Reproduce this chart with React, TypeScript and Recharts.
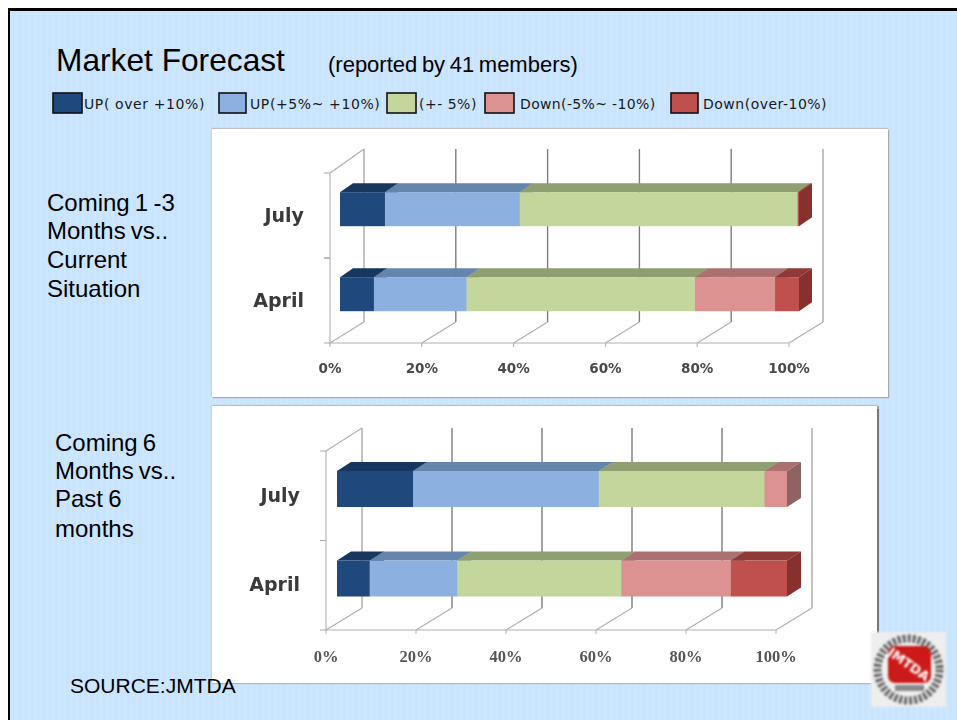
import React from "react";
import { Bar, BarChart, CartesianGrid, XAxis, YAxis } from "recharts";

const months = ["July", "April"];
const seriesKeys = ["upOver", "upMid", "flat", "downMid", "downOver"];
const seriesNames = ["UP( over +10%)", "UP(+5%~ +10%)", "(+- 5%)", "Down(-5%~ -10%)", "Down(over-10%)"];
const frontFills = ["#1f497d", "#8cb1e1", "#c3d69b", "#dc9291", "#c0504d"];
const topFills = ["#17375e", "#6685ad", "#8f9f70", "#ab7170", "#8f3a38"];
const sideFills = ["#17375e", "#6685ad", "#8f9f70", "#8f6362", "#87302e"];
const percentTicks = [0, 20, 40, 60, 80, 100];

// coming 1-3 months
const nearUpOver = [9.8, 7.4];
const nearUpMid = [29.4, 20.2];
const nearFlat = [60.5, 49.7];
const nearDownMid = [0, 17.5];
const nearDownOver = [0.3, 5.2];

// coming 6 months
const farUpOver = [16.9, 7.3];
const farUpMid = [41.3, 19.4];
const farFlat = [36.8, 36.5];
const farDownMid = [5, 24.3];
const farDownOver = [0, 12.5];

const buildRows = (cols: number[][]) =>
  months.map((month, i) => {
    const row: any = { month };
    seriesKeys.forEach((k, s) => (row[k] = cols[s][i]));
    return row;
  });

const nearData = buildRows([nearUpOver, nearUpMid, nearFlat, nearDownMid, nearDownOver]);
const farData = buildRows([farUpOver, farUpMid, farFlat, farDownMid, farDownOver]);

const box3d = (series: number, offX: number, offY: number, dx: number, dy: number) => (props: any) => {
  const { x, y, width, height } = props;
  if (!width || width <= 0) return <g />;
  const bx = x + offX;
  const by = y + offY;
  const r = bx + width;
  return (
    <g>
      <polygon points={`${bx},${by} ${r},${by} ${r + dx},${by - dy} ${bx + dx},${by - dy}`} fill={topFills[series]} />
      <polygon points={`${r},${by} ${r + dx},${by - dy} ${r + dx},${by - dy + height} ${r},${by + height}`} fill={sideFills[series]} />
      <rect x={bx} y={by} width={width} height={height} fill={frontFills[series]} />
    </g>
  );
};

const wallLine = (wallX: number, wallTop: number, wallBottom: number) => (props: any) => {
  const { x1, y1, y2, index } = props;
  const isEdge = index === 0 || index === percentTicks.length - 1;
  return (
    <g key={`wall-${index}`}>
      <line x1={x1 + wallX} x2={x1 + wallX} y1={y1 - wallTop} y2={y2 - wallBottom} stroke={isEdge ? "#a8a8a8" : "#7d7d7d"} strokeWidth={1.4} />
      <line x1={x1} x2={x1 + wallX} y1={y2} y2={y2 - wallBottom} stroke="#b0b0b0" strokeWidth={1.2} />
      {index === 0 && <line x1={x1} x2={x1 + wallX} y1={y1} y2={y1 - wallTop} stroke="#b0b0b0" strokeWidth={1.2} />}
    </g>
  );
};

const categoryTick = (band: number) => (props: any) => {
  const { x, y, payload } = props;
  return (
    <g>
      <line x1={x + 2} x2={x + 8} y1={y - band / 2} y2={y - band / 2} stroke="#a8a8a8" />
      <line x1={x + 2} x2={x + 8} y1={y + band / 2} y2={y + band / 2} stroke="#a8a8a8" />
      <text x={x - 18} y={y + 6} textAnchor="end" fontFamily="'DejaVu Sans'" fontWeight="bold" fontSize={19} fill="#3a3a3a">
        {payload.value}
      </text>
    </g>
  );
};

function ForecastChart({ data, left, top, width, height, plotLeft, plotRight, plotTop, plotBottom, barSize, barX, barY, depthX, depthY, wallX, wallTop, wallBottom, tick }: any) {
  const axisHeight = 40;
  return (
    <div style={{ position: "absolute", left, top, width, height, background: "#fff", filter: "blur(0.5px)" }}>
      <BarChart
        width={width}
        height={height}
        data={data}
        layout="vertical"
        barSize={barSize}
        margin={{ left: 0, top: plotTop, right: width - plotRight, bottom: height - plotBottom - axisHeight }}
      >
        <CartesianGrid horizontal={false} syncWithTicks vertical={wallLine(wallX, wallTop, wallBottom)} />
        <XAxis
          type="number"
          domain={[0, 100]}
          ticks={percentTicks}
          height={axisHeight}
          interval={0}
          stroke="#b0b0b0"
          tickSize={4}
          tickMargin={16}
          tick={tick}
          tickFormatter={(v: number) => `${v}%`}
        />
        <YAxis
          type="category"
          dataKey="month"
          width={plotLeft}
          interval={0}
          stroke="#a8a8a8"
          tickLine={false}
          tick={categoryTick((plotBottom - plotTop) / 2)}
        />
        {seriesKeys.map((key, s) => (
          <Bar
            key={key}
            dataKey={key}
            stackId="a"
            fill={frontFills[s]}
            isAnimationActive={false}
            shape={box3d(s, barX, barY, depthX, depthY)}
          />
        ))}
      </BarChart>
    </div>
  );
}

const legendBoxes = [
  { x: 53, w: 29, tx: 84 },
  { x: 219, w: 27, tx: 250 },
  { x: 387, w: 29, tx: 419 },
  { x: 485, w: 29, tx: 520 },
  { x: 671, w: 27, tx: 703 },
];
const legendSpacing = [0.6, 0.6, 0.5, 0.35, 0.5];
const sideLabelFont = { fontFamily: "'Liberation Sans'", fontSize: 24, fill: "#000" };

function Overlay() {
  return (
    <svg width={957} height={720} style={{ position: "absolute", left: 0, top: 0 }}>
      <g fontFamily="'Liberation Sans'" fill="#000">
        <text x={56} y={71} fontSize={31.7}>Market Forecast</text>
        <text x={328} y={71.5} fontSize={22} wordSpacing={-1.5}>(reported by 41 members)</text>
      </g>
      {seriesNames.map((name, i) => (
        <g key={name}>
          <rect x={legendBoxes[i].x} y={93} width={legendBoxes[i].w} height={20} fill={frontFills[i]} stroke="#111" strokeWidth={1.6} />
          <text x={legendBoxes[i].tx} y={109} fontFamily="'DejaVu Sans'" fontSize={14} letterSpacing={legendSpacing[i]} fill="#1a1a1a">
            {name}
          </text>
        </g>
      ))}
      <g {...sideLabelFont} wordSpacing={-1.5}>
        <text x={47} y={211}>Coming 1 -3</text>
        <text x={47} y={239}>Months vs..</text>
        <text x={47} y={267.5}>Current</text>
        <text x={47} y={296.5}>Situation</text>
        <text x={55} y={451}>Coming 6</text>
        <text x={55} y={479}>Months vs..</text>
        <text x={55} y={507}>Past 6</text>
        <text x={55} y={536.5}>months</text>
      </g>
      <text x={70} y={692.5} fontFamily="'Liberation Sans'" fontSize={21} fill="#000">SOURCE:JMTDA</text>
      <g style={{ filter: "blur(1.1px)" }}>
        <rect x={871} y={632} width={75} height={75} fill="#eeeeee" />
        <circle cx={908.5} cy={669.5} r={31} fill="#f0f0f0" stroke="#666" strokeWidth={8} strokeDasharray="3 2" />
        <rect x={888} y={646} width={43} height={37} rx={7} fill="#cc1a1a" />
        <rect x={895} y={685} width={29} height={6} fill="#888" />
        <text x={909} y={669} textAnchor="middle" fontFamily="'DejaVu Sans'" fontWeight="bold" fontSize={13} fill="#fff" transform="rotate(35 909 664)">
          JMTDA
        </text>
      </g>
    </svg>
  );
}

export default function App() {
  return (
    <div style={{ position: "absolute", left: 0, top: 0, width: 957, height: 720, overflow: "hidden", background: "#fff" }}>
      <div
        style={{
          position: "absolute",
          left: 8,
          top: 8,
          width: 949,
          height: 712,
          boxSizing: "border-box",
          borderTop: "3px solid #000",
          borderLeft: "2.5px solid #000",
          background: "#c9e4fd",
          backgroundImage: "repeating-linear-gradient(90deg, rgba(255,255,255,0.1) 0 2px, transparent 2px 6px)",
        }}
      />
      <div style={{ position: "absolute", left: 212, top: 129, width: 676, height: 268, boxShadow: "1px 1px 1px #a9a9a9, 0 -1px 1px #bdbdbd, -1px 0 0 #d6d6d6" }} />
      <div style={{ position: "absolute", left: 212, top: 406, width: 665, height: 277, boxShadow: "1.5px 0 1px #777, 0 1px 1px #bdbdbd, 0 -1px 1px #c4c4c4, -1px 0 0 #d6d6d6" }} />
      <ForecastChart
        data={nearData}
        left={212}
        top={129}
        width={676}
        height={268}
        plotLeft={118}
        plotRight={577}
        plotTop={44}
        plotBottom={214}
        barSize={34}
        barX={10}
        barY={-6.8}
        depthX={13}
        depthY={9}
        wallX={34}
        wallTop={24}
        wallBottom={21}
        tick={{ fill: "#4a4a4a", fontSize: 13.5, fontWeight: "bold", fontFamily: "'DejaVu Sans'" }}
      />
      <ForecastChart
        data={farData}
        left={212}
        top={406}
        width={665}
        height={277}
        plotLeft={114}
        plotRight={564}
        plotTop={45}
        plotBottom={224}
        barSize={36}
        barX={11}
        barY={-7}
        depthX={14}
        depthY={9}
        wallX={36}
        wallTop={23}
        wallBottom={22}
        tick={{ fill: "#555", fontSize: 16.5, fontWeight: "bold", fontFamily: "'Liberation Serif'" }}
      />
      <Overlay />
    </div>
  );
}
